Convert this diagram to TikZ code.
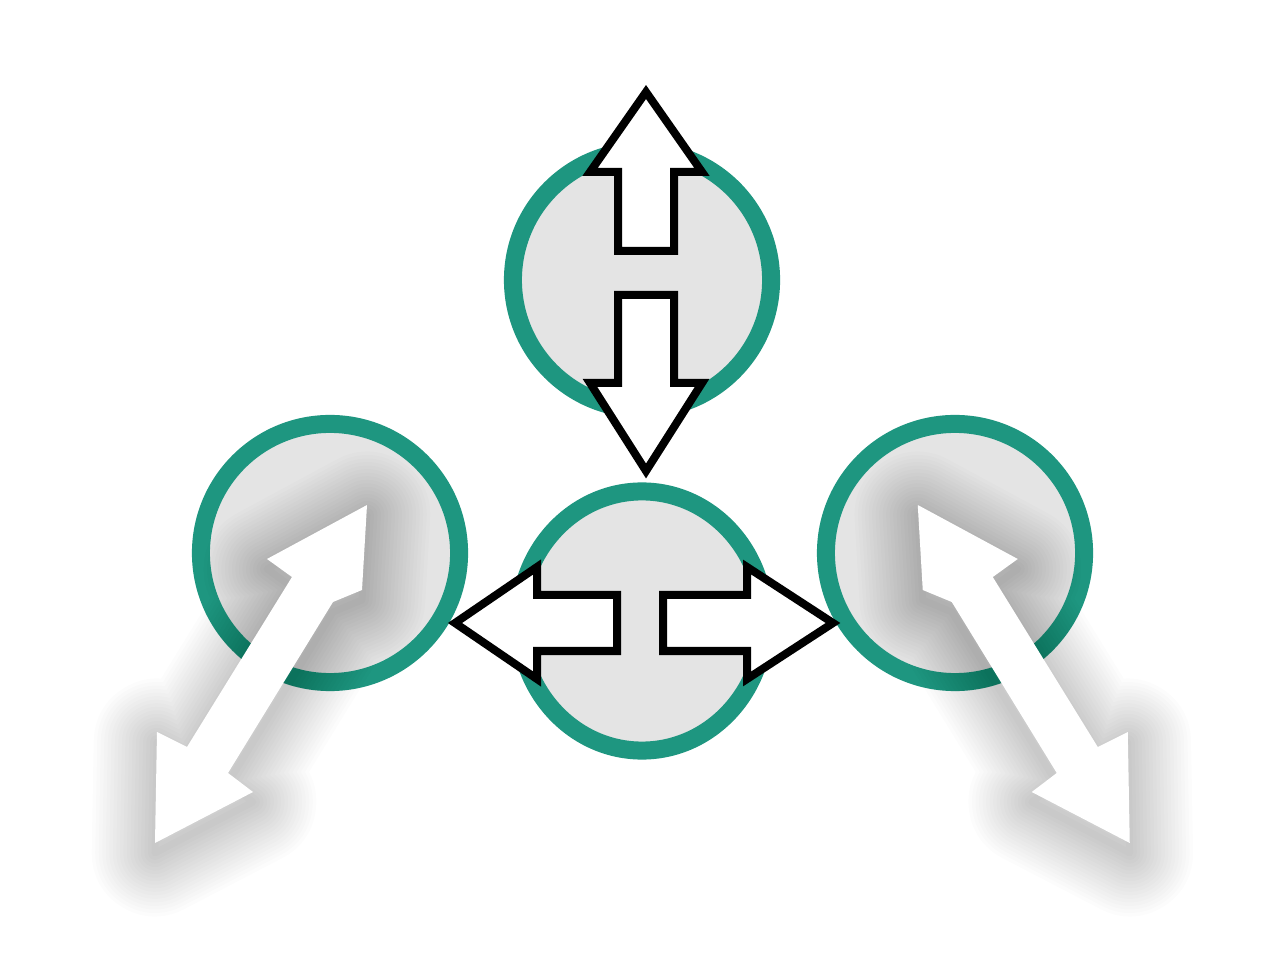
\documentclass[tikz,border=0pt]{standalone}
\usepackage{tikz}
\usetikzlibrary{shapes.geometric}
\definecolor{ringteal}{RGB}{30,150,128}
\definecolor{discgray}{RGB}{228,228,228}
\newcommand{\bubble}[5][]
{
	\node [draw=ringteal, fill=discgray, line width=1.8mm, ellipse, inner sep=0pt,
		minimum width=#4, minimum height=#5] (#1) at (#2, #3) {};
}
\newcommand{\blockarrow}[4]
{
	% tip, direction, head length, shaft length
	\begin{scope}[shift={(#1)}, rotate=#2]
	\draw [black, fill=white, line width=0.8mm, line join=miter]
		(0,0) -- (-#3,56) -- (-#3,28) -- ({-#3-#4},28) -- ({-#3-#4},-28) -- (-#3,-28) -- (-#3,-56) -- cycle;
	\end{scope}
}
\newcommand{\diagpath}{(367,505) -- (267,559) -- (292,577) -- (187,747) -- (157,732) -- (155,843)
	-- (253,792) -- (228,773) -- (333,602) -- (362,590) -- cycle}
\newcommand{\diagarrow}
{
	% soft shadow, then the arrow
	\foreach \w in {1,...,18}
		\draw [black, opacity=0.013, line width=2*\w pt, line join=round, shift={(0,10)}] \diagpath;
	\fill [white] \diagpath;
}

\begin{document}
\begin{tikzpicture}[x=0.01cm, y=-0.01cm]
		\useasboundingbox [fill=white] (0,0) rectangle (1280,965);
		\bubble[top]{642}{280}{2.58cm}{2.58cm}
		\bubble[mid]{642}{621}{2.45cm}{2.59cm}
		\bubble[left]{330}{553}{2.58cm}{2.58cm}
		\bubble[right]{955}{553}{2.58cm}{2.58cm}
		%	white arrows
		\diagarrow
		\begin{scope}[xshift=12.84cm, xscale=-1]
			\diagarrow
		\end{scope}
		%	black arrows
		\coordinate (uptip) at (646,92);
		\coordinate (downtip) at (646,471);
		\coordinate (lefttip) at (455,623);
		\coordinate (righttip) at (833,623);
		\blockarrow{uptip}{90}{80}{79}
		\blockarrow{downtip}{-90}{88}{88}
		\blockarrow{lefttip}{180}{82}{80}
		\blockarrow{righttip}{0}{86}{84}
\end{tikzpicture}
\end{document}
